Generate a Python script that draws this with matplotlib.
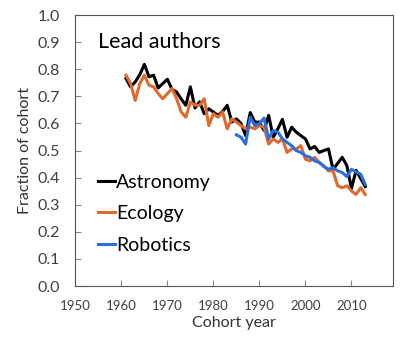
import matplotlib
matplotlib.use('Agg')
import matplotlib.pyplot as plt

plt.rcParams['font.family'] = ['Lato', 'DejaVu Sans']

astro_years = list(range(1961, 2014))
astro = [0.766, 0.735, 0.753, 0.78, 0.818, 0.772, 0.778, 0.731, 0.747, 0.763,
         0.726, 0.716, 0.69, 0.667, 0.735, 0.657, 0.68, 0.636, 0.654, 0.642,
         0.63, 0.644, 0.667, 0.605, 0.617, 0.6, 0.555, 0.64, 0.605, 0.605,
         0.574, 0.63, 0.549, 0.58, 0.615, 0.549, 0.586, 0.568, 0.555, 0.543,
         0.506, 0.515, 0.493, 0.5, 0.506, 0.43, 0.453, 0.475, 0.444, 0.36,
         0.427, 0.397, 0.367]

eco_years = list(range(1961, 2014))
eco = [0.778, 0.747, 0.685, 0.747, 0.778, 0.741, 0.735, 0.71, 0.691, 0.71,
       0.729, 0.691, 0.642, 0.623, 0.679, 0.667, 0.667, 0.691, 0.592, 0.636,
       0.623, 0.642, 0.58, 0.617, 0.605, 0.592, 0.58, 0.586, 0.58, 0.592,
       0.586, 0.524, 0.543, 0.53, 0.543, 0.493, 0.506, 0.506, 0.518, 0.468,
       0.462, 0.475, 0.456, 0.444, 0.425, 0.425, 0.37, 0.363, 0.37, 0.351,
       0.338, 0.363, 0.338]

robo_years = list(range(1985, 2014))
robo = [0.558, 0.549, 0.524, 0.623, 0.592, 0.599, 0.62, 0.543, 0.574, 0.568,
        0.543, 0.53, 0.518, 0.5, 0.493, 0.481, 0.475, 0.462, 0.456, 0.441,
        0.431, 0.437, 0.425, 0.419, 0.404, 0.431, 0.421, 0.413, 0.375]

fig = plt.figure(figsize=(4.14, 3.41), dpi=100)
ax = fig.add_axes([0.182, 0.161, 0.767, 0.795])

ax.plot(astro_years, astro, color='black', lw=2.2, label='Astronomy')
ax.plot(eco_years, eco, color='#e0692c', lw=2.2, label='Ecology')
ax.plot(robo_years, robo, color='#2a6fdb', lw=2.2, label='Robotics')

ax.set_xlim(1950, 2019)
ax.set_ylim(0, 1.0)
ax.set_xticks(range(1950, 2011, 10))
ax.set_yticks([i / 10 for i in range(11)])
ax.set_yticklabels(['%.1f' % (i / 10) for i in range(11)])
ax.tick_params(direction='in', length=4, color='#888888', labelcolor='#404040')
ax.tick_params(axis='y', labelsize=11.5, pad=11)
ax.tick_params(axis='x', labelsize=9.5, pad=10)
for s in ax.spines.values():
    s.set_color('#555555')

ax.set_xlabel('Cohort year', fontsize=11.5, color='#333333', labelpad=3)
ax.set_ylabel('Fraction of cohort', fontsize=11.5, color='#333333', labelpad=4)

ax.text(0.07, 0.9, 'Lead authors', transform=ax.transAxes, fontsize=15.5,
        va='center', ha='left')

ax.legend(loc='upper left', bbox_to_anchor=(0.07, 0.415), frameon=False,
          fontsize=14, handlelength=0.9, handletextpad=0.05, labelspacing=0.75,
          borderaxespad=0, borderpad=0)

fig.savefig('out.png', dpi=100)
